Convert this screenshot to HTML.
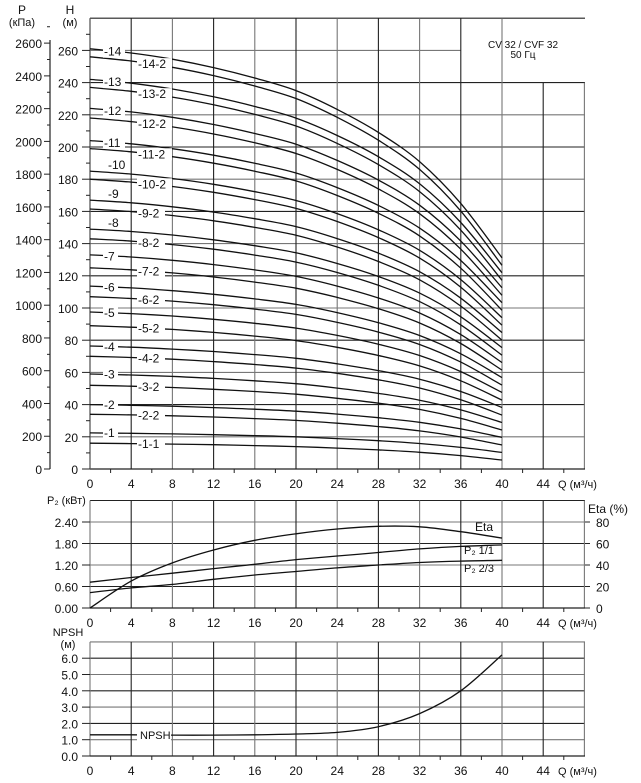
<!DOCTYPE html>
<html><head><meta charset="utf-8"><style>
body{margin:0;background:#fff}
svg{display:block;font-family:"Liberation Sans",sans-serif}
text{fill:#111}
</style></head><body>
<svg id="c" width="641" height="783" viewBox="0 0 641 783" xmlns="http://www.w3.org/2000/svg"></svg>
<script>
// ---- data ----
const qTicks = [0,4,8,12,16,20,24,28,32,36,40,44];
const qPoints = [0,4,8,12,16,20,24,28,32,36,40];
const stageNames = ["1","2","3","4","5","6","7","8","9","10","11","12","13","14"];
const hShutFull = [22.4,40,59,76.4,97.5,113.6,133,149,167,185,204,224,242,261];
const hShutTrim = [16,34,52,70,89,107,125,143,161.5,180,199,218,237,256];
const hEndFull = [10.3,19.6,28.9,38.2,47.5,56.8,66.1,75.4,84.7,94,103.3,112.6,121.9,131.2];
const hEndTrim = [5.6,14.9,24.2,33.5,42.8,52.1,61.4,70.7,80,89.3,98.6,107.9,117.2,126.5];
const dropShape = [0,0.02,0.05,0.09,0.14,0.2,0.29,0.4,0.54,0.74,1];
const hTicks = [0,20,40,60,80,100,120,140,160,180,200,220,240,260];
const pTicks = [0,200,400,600,800,1000,1200,1400,1600,1800,2000,2200,2400,2600];
const etaValues = [0,25,42,54,63,69,73.5,76,75.5,71,65];
const p2Full = [0.72,0.85,0.97,1.1,1.22,1.35,1.45,1.55,1.65,1.72,1.76];
const p2Two = [0.43,0.56,0.66,0.8,0.92,1.02,1.12,1.2,1.27,1.31,1.33];
const p2Ticks = [0,0.6,1.2,1.8,2.4];
const etaTicks = [0,20,40,60,80];
const npshValues = [1.3,1.3,1.28,1.28,1.3,1.35,1.45,1.8,2.6,4.0,6.2];
const npshTicks = [0,1,2,3,4,5,6];

const svg=document.getElementById('c');
const NS='http://www.w3.org/2000/svg';
function el(tag,attrs,parent){const e=document.createElementNS(NS,tag);for(const k in attrs)e.setAttribute(k,attrs[k]);(parent||svg).appendChild(e);return e;}
function txt(x,y,s,anchor,size,parent){const t=el('text',{x:x,y:y,'text-anchor':anchor||'start','font-size':size||12},parent);t.textContent=s;return t;}
const xs=q=>90+q*10.3;
const X0=90,X1=585;
function line(x1,y1,x2,y2,c,w,parent){return el('line',{x1:x1,y1:y1,x2:x2,y2:y2,stroke:c||'#222','stroke-width':w||1},parent);}
function smooth(pts){
  let d='M'+pts[0][0].toFixed(1)+','+pts[0][1].toFixed(1);
  for(let i=0;i<pts.length-1;i++){
    const p0=pts[Math.max(0,i-1)],p1=pts[i],p2=pts[i+1],p3=pts[Math.min(pts.length-1,i+2)];
    const c1x=p1[0]+(p2[0]-p0[0])/6,c1y=p1[1]+(p2[1]-p0[1])/6;
    const c2x=p2[0]-(p3[0]-p1[0])/6,c2y=p2[1]-(p3[1]-p1[1])/6;
    d+=' C'+c1x.toFixed(1)+','+c1y.toFixed(1)+' '+c2x.toFixed(1)+','+c2y.toFixed(1)+' '+p2[0].toFixed(1)+','+p2[1].toFixed(1);
  }
  return d;
}

// ===== top chart =====
const yH=h=>469-h*1.61;
const yP=p=>469-p*0.1638;
const topG=el('g',{});


for(let h=20;h<=280;h+=20){
  const x2=(h>=260)?461:X1;
  line(X0,yH(h),x2,yH(h),h%40?'#777':'#222',1.1,topG);
}
line(461,yH(280),X1,yH(280),'#222',1.1,topG);
qTicks.concat([48]).forEach((q,i)=>{
  const x=xs(q); const y1=(q>40)?yH(240):yH(280);
  line(x,y1,x,yH(0),i%2?'#222':'#777',1.1,topG);
});
line(X0,yH(0),X1,yH(0),'#222',1.2,topG);
line(X0,yH(280),X0,yH(0),'#555',1.2,topG);
const lg=el('g',{},topG);


const t1=txt(523,48,'CV 32 / CVF 32','middle',10,lg);t1.setAttribute('fill','#4a3a6a');
const t2=txt(523,58,'50 Гц','middle',10,lg);t2.setAttribute('fill','#4a3a6a');
for(let q=0;q<=48;q+=2){line(xs(q),469,xs(q),q%4?473:469,'#222',1,topG);}
qTicks.forEach(q=>{const t=txt(xs(q),488,String(q),'middle',12,topG);});
txt(558,488,'Q (м³/ч)','start',11,topG);
hTicks.forEach(h=>{txt(78,yH(h)+5,String(h),'end',12,topG);line(82,yH(h),X0,yH(h),'#222',1,topG);});
for(let h=10;h<=270;h+=20)line(86,yH(h),X0,yH(h),'#222',1,topG);
txt(70,14,'H','middle',12,topG);txt(70,26,'(м)','middle',11,topG);
line(50,yP(0),50,40,'#222',1.2,topG);
pTicks.forEach(p=>{txt(42,yP(p)+5,String(p),'end',12,topG);line(44,yP(p),50,yP(p),'#222',1,topG);});
for(let p=100;p<=2700;p+=200)line(47,yP(p),50,yP(p),'#222',1,topG);
txt(22,14,'P','middle',12,topG);txt(22,26,'(кПа)','middle',11,topG);
function curve(h0,h1,name){
  const pts=qPoints.map((q,i)=>[xs(q),yH(h0-(h0-h1)*dropShape[i])]);
  const p=el('path',{d:smooth(pts),fill:'none',stroke:'#111','stroke-width':1.3},topG);
  
  
}
function yAt(h0,h1,q){const i=Math.min(9,Math.floor(q/4));const f=(q-qPoints[i])/4;const g=dropShape[i]+(dropShape[i+1]-dropShape[i])*f;return yH(h0-(h0-h1)*g);}
stageNames.forEach((s,k)=>{
  curve(hShutFull[k],hEndFull[k],'curve-stage-'+s);
  curve(hShutTrim[k],hEndTrim[k],'curve-stage-'+s+'-trim');
});
stageNames.forEach((s,k)=>{
  const yF=yAt(hShutFull[k],hEndFull[k],2.8);
  const n=k+1;
  const g=el('g',{},topG);
  
  
  if(n>=8&&n<=10){txt(108,yF-4,'-'+s,'start',12,g);}
  else{el('rect',{x:103,y:yF-6,width:n>=10?22:15,height:12,fill:'#fff'},g);txt(104,yF+4,'-'+s,'start',12,g);}
  const yT=yAt(hShutTrim[k],hEndTrim[k],6);
  const g2=el('g',{},topG);
  
  
  const lab='-'+s+(n===1?'-1':'-2');
  el('rect',{x:137,y:yT-6,width:lab.length*7,height:12,fill:'#fff'},g2);
  txt(138,yT+4,lab,'start',12,g2);
});

// ===== middle chart =====
const yW=v=>608-v*35.83;
const yE=e=>608-e*1.075;
const mid=el('g',{});


[0.6,1.2,1.8,2.4,3.0].forEach((v,i)=>line(X0,yW(v),X1,yW(v),i%2?'#777':'#222',1.1,mid));
qTicks.concat([48]).forEach((q,i)=>line(xs(q),yW(3.0),xs(q),608,i%2?'#222':'#777',1.1,mid));
line(X0,608,X1,608,'#222',1.2,mid);
for(let q=0;q<=48;q+=2)line(xs(q),608,xs(q),q%4?612:608,'#222',1,mid);
qTicks.forEach(q=>txt(xs(q),627,String(q),'middle',12,mid));
txt(558,627,'Q (м³/ч)','start',11,mid);
p2Ticks.forEach(v=>{txt(78,yW(v)+5,v.toFixed(2),'end',12,mid);line(82,yW(v),X0,yW(v),'#222',1,mid);});
txt(47,504,'P₂ (кВт)','start',11,mid);
etaTicks.forEach(e=>{txt(596,yE(e)+5,String(e),'start',12,mid);line(X1,yE(e),590,yE(e),'#222',1,mid);});
txt(588,513,'Eta (%)','start',12,mid);
function mpath(vals,fy,name){
  const pts=qPoints.map((q,i)=>[xs(q),fy(vals[i])]);
  const p=el('path',{d:smooth(pts),fill:'none',stroke:'#111','stroke-width':1.3},mid);
  
  
}
mpath(etaValues,yE,'eta-curve');
mpath(p2Full,yW,'p2-full-curve');
mpath(p2Two,yW,'p2-two-thirds-curve');
txt(475,531,'Eta','start',12,mid);
txt(464,554,'P₂ 1/1','start',11,mid);
txt(464,572,'P₂ 2/3','start',11,mid);

// ===== bottom chart =====
const yN=v=>756-v*16.3;
const bot=el('g',{});


[1,2,3,4,5,6,7].forEach((v,i)=>line(X0,yN(v),X1,yN(v),i%2?'#222':'#777',1.1,bot));
qTicks.concat([48]).forEach((q,i)=>line(xs(q),yN(7),xs(q),756,i%2?'#222':'#777',1.1,bot));
line(X0,756,X1,756,'#222',1.2,bot);
for(let q=0;q<=48;q+=2)line(xs(q),756,xs(q),q%4?760:756,'#222',1,bot);
qTicks.forEach(q=>txt(xs(q),775,String(q),'middle',12,bot));
txt(558,775,'Q (м³/ч)','start',11,bot);
npshTicks.forEach(v=>{txt(78,yN(v)+5,v.toFixed(1),'end',12,bot);line(82,yN(v),X0,yN(v),'#222',1,bot);});
txt(68,636,'NPSH','middle',11,bot);txt(68,648,'(м)','middle',11,bot);
const npts=qPoints.map((q,i)=>[xs(q),yN(npshValues[i])]);
const np=el('path',{d:smooth(npts),fill:'none',stroke:'#111','stroke-width':1.3},bot);


el('rect',{x:137,y:yN(1.3)-6,width:34,height:12,fill:'#fff'},bot);
txt(140,yN(1.3)+4,'NPSH','start',11,bot);
</script>
</body></html>
